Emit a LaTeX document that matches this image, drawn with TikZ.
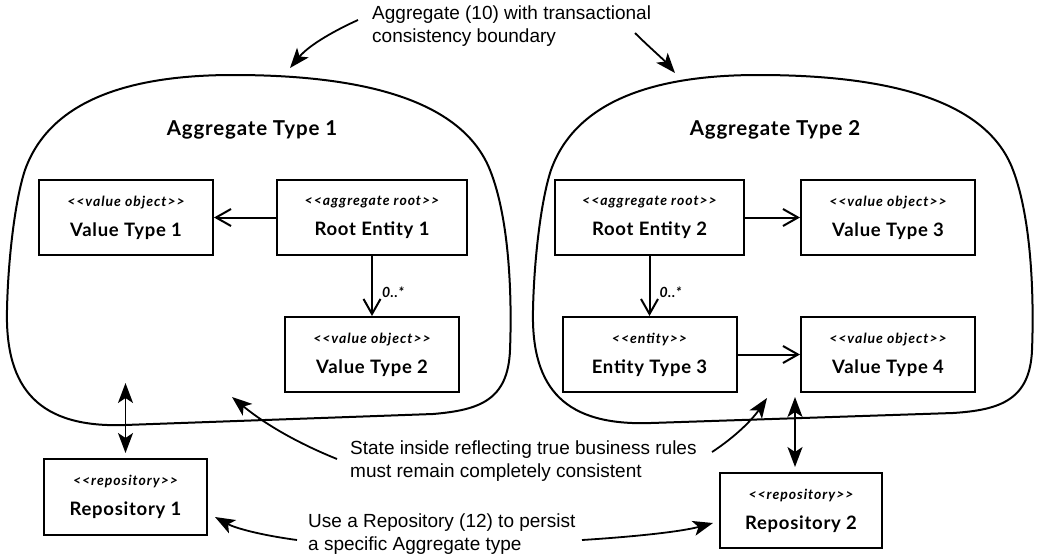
\documentclass[tikz,border=0pt]{standalone}
\usepackage{fontspec}
\setmainfont{Liberation Sans}
\newfontfamily\handfont{Lato}[LetterSpace=4]
\newfontfamily\stereofont{Lato}[LetterSpace=7]
\usetikzlibrary{arrows.meta}

\newcommand{\stereo}[1]{{\stereofont\fontsize{14}{16}\selectfont\bfseries\itshape <{}<#1>{}>}}

\begin{document}
\begin{tikzpicture}[x=1pt,y=-1pt,
   box/.style={draw, line width=2pt, minimum width=174pt, minimum height=75pt,
      inner sep=0pt, align=center, font=\handfont\bfseries\fontsize{18.5}{30}\selectfont},
   title/.style={font=\handfont\bfseries\fontsize{20.5}{24}\selectfont},
   note/.style={align=left, inner sep=0pt, font=\fontsize{19}{23}\selectfont},
   blob/.style={line width=2pt},
   uml/.style={line width=2pt, -{Straight Barb[length=15pt,width=17pt,line width=2pt]}},
   link/.style={line width=1.8pt, {Stealth[length=20pt,width=15pt,inset=5pt]}-{Stealth[length=20pt,width=15pt,inset=5pt]}},
   pointer/.style={line width=1.8pt, -{Stealth[length=20pt,width=15pt,inset=5pt]}},
   mult/.style={inner sep=0pt, font=\handfont\itshape\bfseries\fontsize{14}{16}\selectfont}]
\useasboundingbox (0,0) rectangle (1038,557);

% consistency boundaries
\draw[blob] (233,75) .. controls (350,75) and (460,95) .. (490,170)
   .. controls (510,220) and (512,300) .. (510,350)
   .. controls (508,400) and (480,410) .. (433,414) -- (125,425)
   .. controls (40,428) and (5,390) .. (7,310)
   .. controls (8,260) and (15,200) .. (25,170)
   .. controls (50,100) and (130,75) .. (233,75) -- cycle;
\draw[blob] (758,75) .. controls (875,75) and (985,95) .. (1013,170)
   .. controls (1032,220) and (1034,300) .. (1032,350)
   .. controls (1030,400) and (1000,410) .. (953,413) -- (651,423)
   .. controls (566,426) and (531,390) .. (533,310)
   .. controls (534,260) and (541,200) .. (551,170)
   .. controls (576,100) and (656,75) .. (758,75) -- cycle;

\node[title] (agg1) at (252,130) {Aggregate Type 1};
\node[title] (agg2) at (775,130) {Aggregate Type 2};

% aggregate 1
\node[box] (vt1) at (126,217.5) {\stereo{value object}\\ Value Type 1};
\node[box, minimum width=190pt] (re1) at (372,217.5) {\stereo{aggregate root}\\ Root Entity 1};
\node[box] (vt2) at (372,354.5) {\stereo{value object}\\ Value Type 2};

% aggregate 2
\node[box, minimum width=189pt] (re2) at (649.5,217.5) {\stereo{aggregate root}\\ Root Entity 2};
\node[box] (vt3) at (888,217.5) {\stereo{value object}\\ Value Type 3};
\node[box] (et3) at (649.5,354.5) {\stereo{entity}\\ Entity Type 3};
\node[box] (vt4) at (888,354.5) {\stereo{value object}\\ Value Type 4};

% repositories
\node[box, minimum width=163pt, minimum height=76pt] (rep1) at (125.5,497) {\stereo{repository}\\ Repository 1};
\node[box, minimum width=162pt] (rep2) at (801,510.5) {\stereo{repository}\\ Repository 2};

\draw[uml] (re1) -- (vt1);
\draw[uml] (re1) -- (vt2) node[mult, anchor=west, pos=0.6, xshift=9pt] {0..*};
\draw[uml] (re2) -- (vt3);
\draw[uml] (re2) -- (et3) node[mult, anchor=west, pos=0.6, xshift=9pt] {0..*};
\draw[uml] (et3) -- (vt4);

\coordinate (in1) at (125.5,383);
\coordinate (in2) at (795,397);
\draw[link, shorten >=5pt] (in1) -- (in1 |- rep1.north);
\draw[link, shorten >=5pt] (in2) -- (in2 |- rep2.north);

% notes
\node[note, anchor=north west] (note1) at (372,6) {Aggregate (10) with transactional\\consistency boundary};
\node[note, anchor=north west] (note2) at (350,441) {State inside reflecting true business rules\\must remain completely consistent};
\node[note, anchor=north west] (note3) at (308,514) {Use a Repository (12) to persist\\a specific Aggregate type};

\coordinate (t1) at (358,20);
\coordinate (t2) at (635,33);
\coordinate (t3) at (337,459);
\coordinate (t4) at (712,452);
\coordinate (t5) at (297,540);
\coordinate (t6) at (582,540);
\coordinate (b1) at (290,68);
\coordinate (b2) at (675,73);
\coordinate (s1) at (232,397);
\coordinate (s2) at (767,398);
\coordinate (r1) at (215,517);
\coordinate (r2) at (713,523);

\draw[pointer] (t1) .. controls (338,29) and (310,44) .. (b1);
\draw[pointer] (t2) .. controls (648,46) and (663,59) .. (b2);
\draw[pointer] (t3) .. controls (290,440) and (260,420) .. (s1);
\draw[pointer] (t4) .. controls (735,437) and (752,420) .. (s2);
\draw[pointer] (t5) .. controls (260,535) and (235,528) .. (r1);
\draw[pointer] (t6) .. controls (630,537) and (680,532) .. (r2);
\end{tikzpicture}
\end{document}
